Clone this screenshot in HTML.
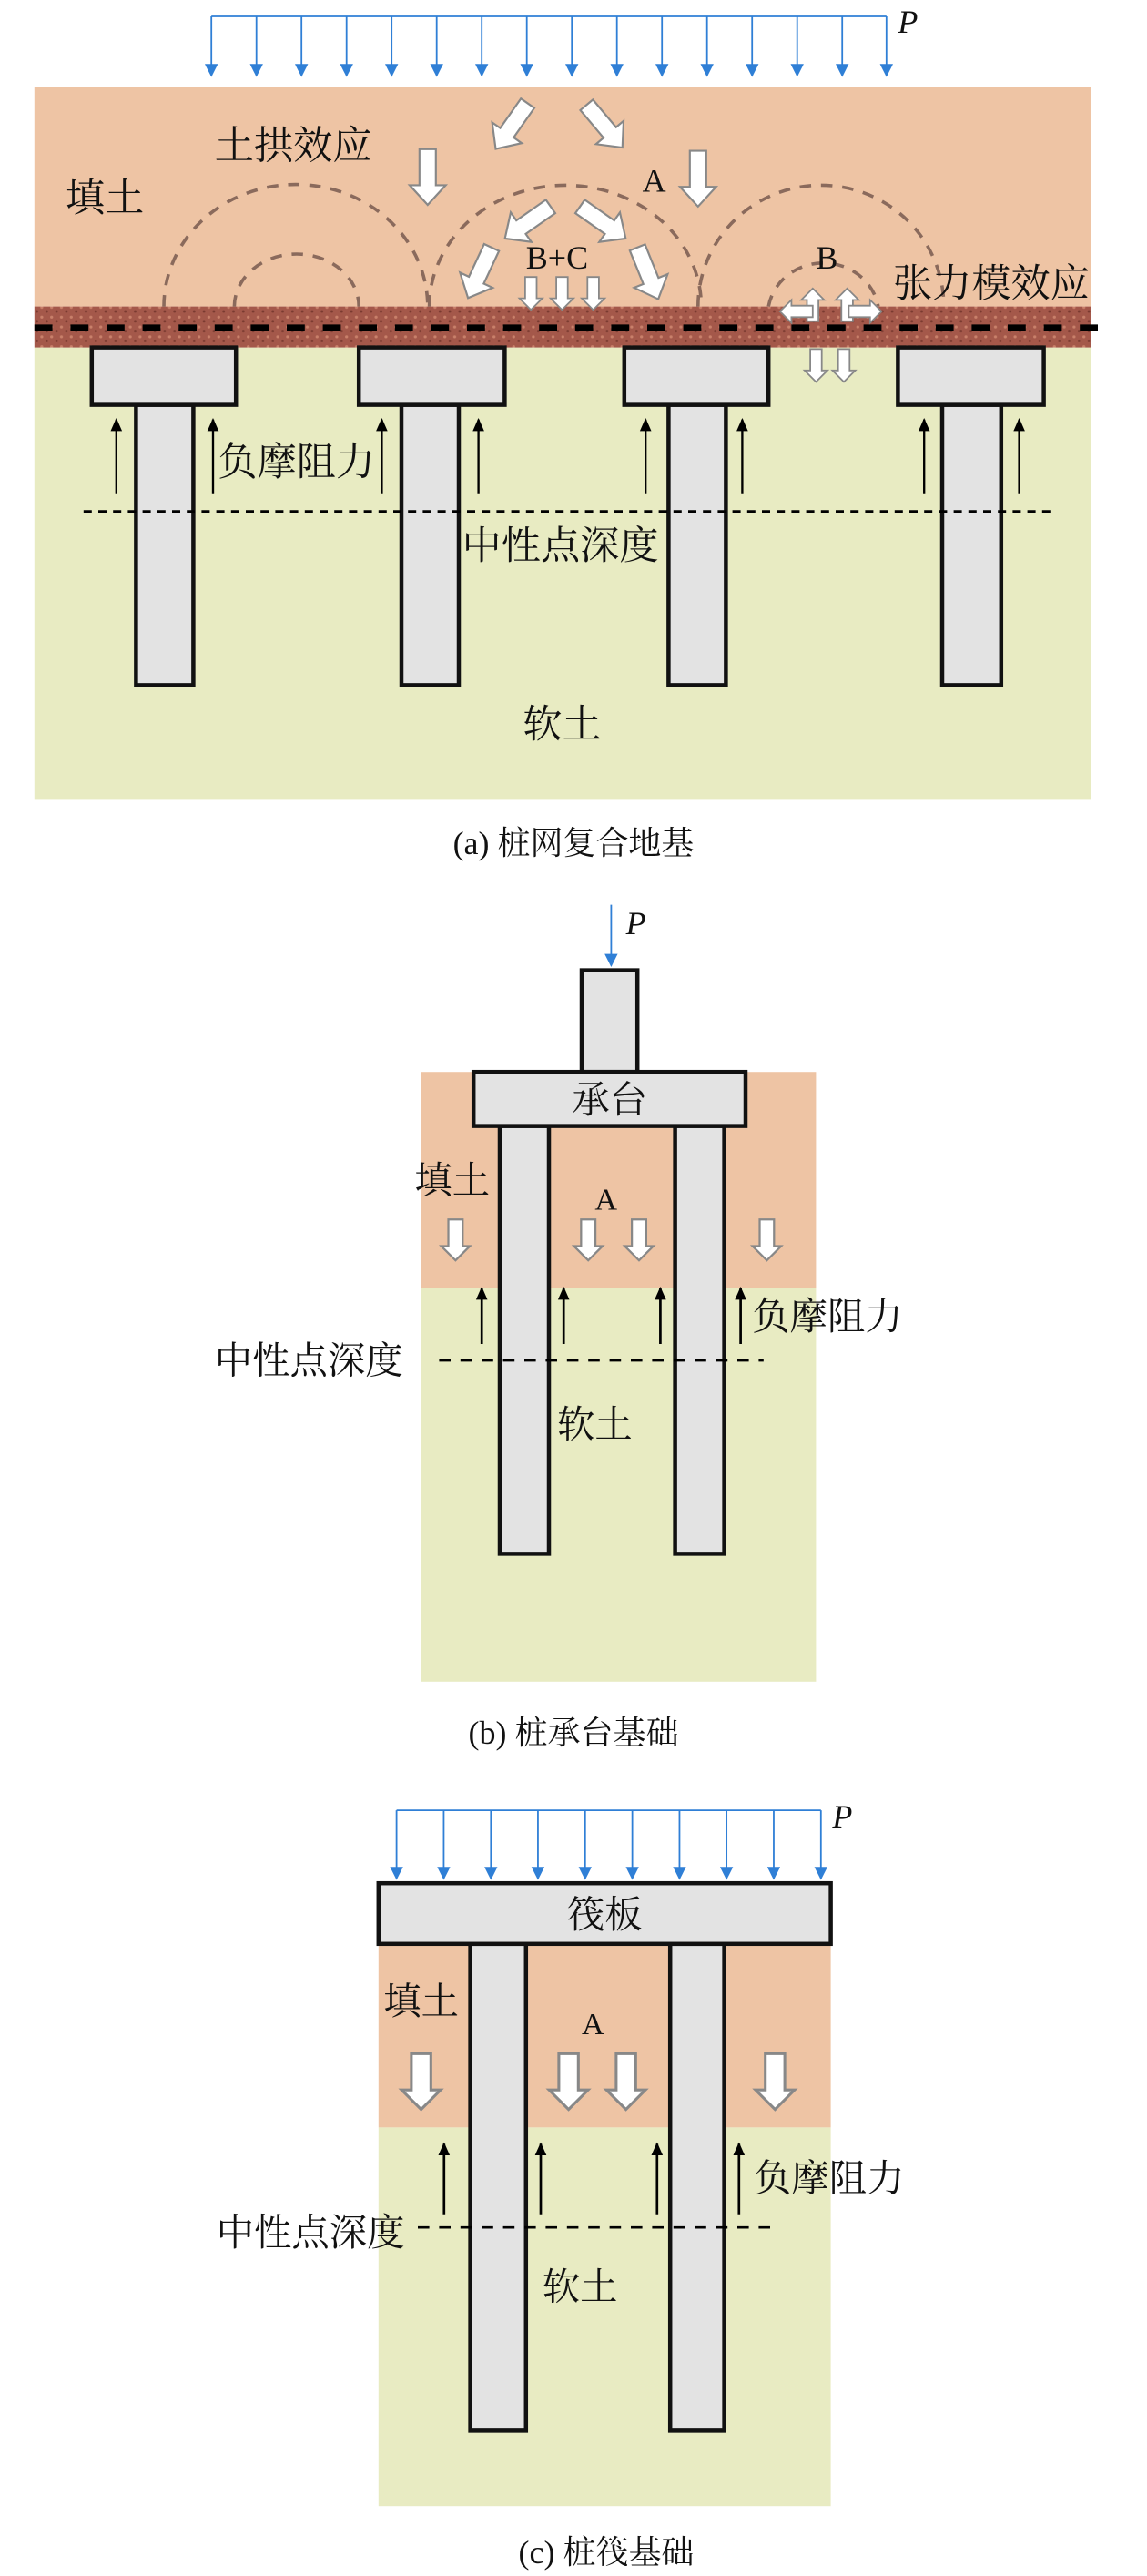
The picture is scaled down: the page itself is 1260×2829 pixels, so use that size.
<!DOCTYPE html>
<html><head><meta charset="utf-8"><style>
html,body{margin:0;padding:0;background:#fff;}
svg{display:block;}
text{font-family:"Liberation Serif","Noto Serif CJK SC","Noto Sans CJK SC",serif;fill:#111;}
</style></head><body>
<svg width="1260" height="2829" viewBox="0 0 700 1571.67" xmlns="http://www.w3.org/2000/svg">
<defs>
<marker id="bl" markerWidth="8" markerHeight="8" refX="7" refY="4" orient="auto" markerUnits="userSpaceOnUse"><path d="M0,0 L8,4 L0,8 Z" fill="#2f7fd6"/></marker>
<marker id="bk" markerWidth="8" markerHeight="8" refX="7" refY="4" orient="auto" markerUnits="userSpaceOnUse"><path d="M0,0.5 L8,4 L0,7.5 Z" fill="#000"/></marker>
<g id="ha"><path d="M-5,0 L5,0 L5,22 L11,22 L0,34 L-11,22 L-5,22 Z" fill="#fff" stroke="#888" stroke-width="1.2"/></g>
<g id="hs"><path d="M-3.5,0 L3.5,0 L3.5,13 L7,13 L0,20 L-7,13 L-3.5,13 Z" fill="#fff" stroke="#888" stroke-width="1"/></g>
<pattern id="rough" width="6" height="6" patternUnits="userSpaceOnUse"><rect width="6" height="6" fill="#a4584a"/><circle cx="1.5" cy="1.5" r="0.9" fill="#c9806a"/><circle cx="4.5" cy="4" r="0.8" fill="#7a3a30"/></pattern>
</defs>

<!-- ===== Panel (a) ===== -->
<rect x="21" y="53" width="645" height="134" fill="#eec4a4"/>
<rect x="21" y="212" width="645" height="276" fill="#e8ebc2"/>
<rect x="21" y="187" width="645" height="25" fill="url(#rough)"/>
<line x1="21" y1="200" x2="675" y2="200" stroke="#000" stroke-width="4" stroke-dasharray="11,11"/>
<line x1="129" y1="10" x2="541" y2="10" stroke="#2f7fd6" stroke-width="1"/>
<g stroke="#2f7fd6" stroke-width="1" marker-end="url(#bl)">
<line x1="129" y1="10" x2="129" y2="46"/><line x1="156.5" y1="10" x2="156.5" y2="46"/><line x1="184" y1="10" x2="184" y2="46"/><line x1="211.5" y1="10" x2="211.5" y2="46"/><line x1="239" y1="10" x2="239" y2="46"/><line x1="266.5" y1="10" x2="266.5" y2="46"/><line x1="294" y1="10" x2="294" y2="46"/><line x1="321.5" y1="10" x2="321.5" y2="46"/><line x1="349" y1="10" x2="349" y2="46"/><line x1="376.5" y1="10" x2="376.5" y2="46"/><line x1="404" y1="10" x2="404" y2="46"/><line x1="431.5" y1="10" x2="431.5" y2="46"/><line x1="459" y1="10" x2="459" y2="46"/><line x1="486.5" y1="10" x2="486.5" y2="46"/><line x1="514" y1="10" x2="514" y2="46"/><line x1="541" y1="10" x2="541" y2="46"/>
</g>
<text x="548" y="20" font-size="20" font-style="italic">P</text>
<g fill="none" stroke="#8a6a5c" stroke-width="2" stroke-dasharray="7,6">
<path d="M100,187 A80,74 0 0 1 261,187"/>
<path d="M143,187 A38,32 0 0 1 219,187"/>
<path d="M262,187 A83,74 0 0 1 428,187"/>
<path d="M426,187 A75,74 0 0 1 576,187"/>
<path d="M469,187 A34,32 0 0 1 536,187"/>
</g>
<g fill="#e3e3e3" stroke="#111" stroke-width="2.5">
<rect x="83" y="247" width="35" height="171"/><rect x="245" y="247" width="35" height="171"/><rect x="408" y="247" width="35" height="171"/><rect x="575" y="247" width="36" height="171"/>
<rect x="56" y="212" width="88" height="35"/><rect x="219" y="212" width="89" height="35"/><rect x="381" y="212" width="88" height="35"/><rect x="548" y="212" width="89" height="35"/>
</g>
<line x1="51" y1="312" x2="641" y2="312" stroke="#000" stroke-width="1.5" stroke-dasharray="5,4"/>
<g stroke="#000" stroke-width="1.3" marker-end="url(#bk)">
<line x1="71" y1="301" x2="71" y2="256"/><line x1="130" y1="301" x2="130" y2="256"/><line x1="233" y1="301" x2="233" y2="256"/><line x1="292" y1="301" x2="292" y2="256"/><line x1="394" y1="301" x2="394" y2="256"/><line x1="453" y1="301" x2="453" y2="256"/><line x1="564" y1="301" x2="564" y2="256"/><line x1="622" y1="301" x2="622" y2="256"/>
</g>
<use href="#ha" transform="translate(261,91)"/>
<use href="#ha" transform="translate(426,92)"/>
<use href="#ha" transform="translate(322,63) rotate(35)"/>
<use href="#ha" transform="translate(358,64) rotate(-40)"/>
<use href="#ha" transform="translate(336,126) rotate(55)"/>
<use href="#ha" transform="translate(354,126) rotate(-55)"/>
<use href="#ha" transform="translate(300,151) rotate(25)"/>
<use href="#ha" transform="translate(389,151) rotate(-22)"/>
<use href="#hs" transform="translate(324,169)"/>
<use href="#hs" transform="translate(343,169)"/>
<use href="#hs" transform="translate(362,169)"/>
<use href="#hs" transform="translate(496,196) rotate(180)"/>
<use href="#hs" transform="translate(517,196) rotate(180)"/>
<use href="#hs" transform="translate(496,190) rotate(90)"/>
<use href="#hs" transform="translate(518,190) rotate(-90)"/>
<use href="#hs" transform="translate(498,213)"/>
<use href="#hs" transform="translate(515,213)"/>
<g font-size="24">
<text x="40" y="129">填土</text>
<text x="131" y="97">土拱效应</text>
<text x="392" y="117" font-size="20">A</text>
<text x="321" y="164" font-size="20">B+C</text>
<text x="498" y="164" font-size="20">B</text>
<text x="545" y="181">张力模效应</text>
<text x="133" y="290">负摩阻力</text>
<text x="282" y="341">中性点深度</text>
<text x="319" y="450">软土</text>
</g>
<text x="350" y="521" font-size="20" text-anchor="middle">(a) 桩网复合地基</text>

<!-- ===== Panel (b) ===== -->
<rect x="257" y="654" width="241" height="132" fill="#eec4a4"/>
<rect x="257" y="786" width="241" height="240" fill="#e8ebc2"/>
<line x1="373" y1="552" x2="373" y2="589" stroke="#2f7fd6" stroke-width="1" marker-end="url(#bl)"/>
<text x="382" y="570" font-size="20" font-style="italic">P</text>
<g fill="#e3e3e3" stroke="#111" stroke-width="2.5">
<rect x="355" y="592" width="34" height="62"/>
<rect x="305" y="687" width="30" height="261"/><rect x="412" y="687" width="30" height="261"/>
<rect x="289" y="654" width="166" height="33"/>
</g>
<text x="372" y="679" font-size="23" text-anchor="middle">承台</text>
<line x1="268" y1="830" x2="466" y2="830" stroke="#000" stroke-width="1.5" stroke-dasharray="7,6"/>
<g stroke="#000" stroke-width="1.5" marker-end="url(#bk)">
<line x1="294" y1="820" x2="294" y2="786"/><line x1="344" y1="820" x2="344" y2="786"/><line x1="403" y1="820" x2="403" y2="786"/><line x1="452" y1="820" x2="452" y2="786"/>
</g>
<use href="#hs" transform="translate(278,744) scale(1.25)"/>
<use href="#hs" transform="translate(359,744) scale(1.25)"/>
<use href="#hs" transform="translate(390,744) scale(1.25)"/>
<use href="#hs" transform="translate(468,744) scale(1.25)"/>
<g font-size="23">
<text x="253" y="728">填土</text>
<text x="363" y="738" font-size="19">A</text>
<text x="459" y="811">负摩阻力</text>
<text x="131" y="838">中性点深度</text>
<text x="340" y="877">软土</text>
</g>
<text x="350" y="1064" font-size="20" text-anchor="middle">(b) 桩承台基础</text>

<!-- ===== Panel (c) ===== -->
<rect x="231" y="1186" width="276" height="112" fill="#eec4a4"/>
<rect x="231" y="1298" width="276" height="231" fill="#e8ebc2"/>
<line x1="242" y1="1104.5" x2="501" y2="1104.5" stroke="#2f7fd6" stroke-width="1"/>
<g stroke="#2f7fd6" stroke-width="1" marker-end="url(#bl)">
<line x1="242" y1="1104.5" x2="242" y2="1146"/><line x1="270.8" y1="1104.5" x2="270.8" y2="1146"/><line x1="299.6" y1="1104.5" x2="299.6" y2="1146"/><line x1="328.3" y1="1104.5" x2="328.3" y2="1146"/><line x1="357.1" y1="1104.5" x2="357.1" y2="1146"/><line x1="385.9" y1="1104.5" x2="385.9" y2="1146"/><line x1="414.7" y1="1104.5" x2="414.7" y2="1146"/><line x1="443.4" y1="1104.5" x2="443.4" y2="1146"/><line x1="472.2" y1="1104.5" x2="472.2" y2="1146"/><line x1="501" y1="1104.5" x2="501" y2="1146"/>
</g>
<text x="508" y="1115" font-size="20" font-style="italic">P</text>
<g fill="#e3e3e3" stroke="#111" stroke-width="2.5">
<rect x="287" y="1186" width="34" height="297"/><rect x="409" y="1186" width="33" height="297"/>
<rect x="231" y="1149" width="276" height="37"/>
</g>
<text x="369" y="1176" font-size="23" text-anchor="middle">筏板</text>
<line x1="255" y1="1359" x2="472" y2="1359" stroke="#000" stroke-width="1.5" stroke-dasharray="7,6"/>
<g stroke="#000" stroke-width="1.5" marker-end="url(#bk)">
<line x1="271" y1="1351" x2="271" y2="1308"/><line x1="330" y1="1351" x2="330" y2="1308"/><line x1="401" y1="1351" x2="401" y2="1308"/><line x1="451" y1="1351" x2="451" y2="1308"/>
</g>
<use href="#hs" transform="translate(257,1253) scale(1.7)"/>
<use href="#hs" transform="translate(347,1253) scale(1.7)"/>
<use href="#hs" transform="translate(382,1253) scale(1.7)"/>
<use href="#hs" transform="translate(473,1253) scale(1.7)"/>
<g font-size="23">
<text x="234" y="1229">填土</text>
<text x="355" y="1241" font-size="19">A</text>
<text x="460" y="1337">负摩阻力</text>
<text x="132" y="1370">中性点深度</text>
<text x="331" y="1403">软土</text>
</g>
<text x="370" y="1564" font-size="20" text-anchor="middle">(c) 桩筏基础</text>
</svg>
</body></html>
